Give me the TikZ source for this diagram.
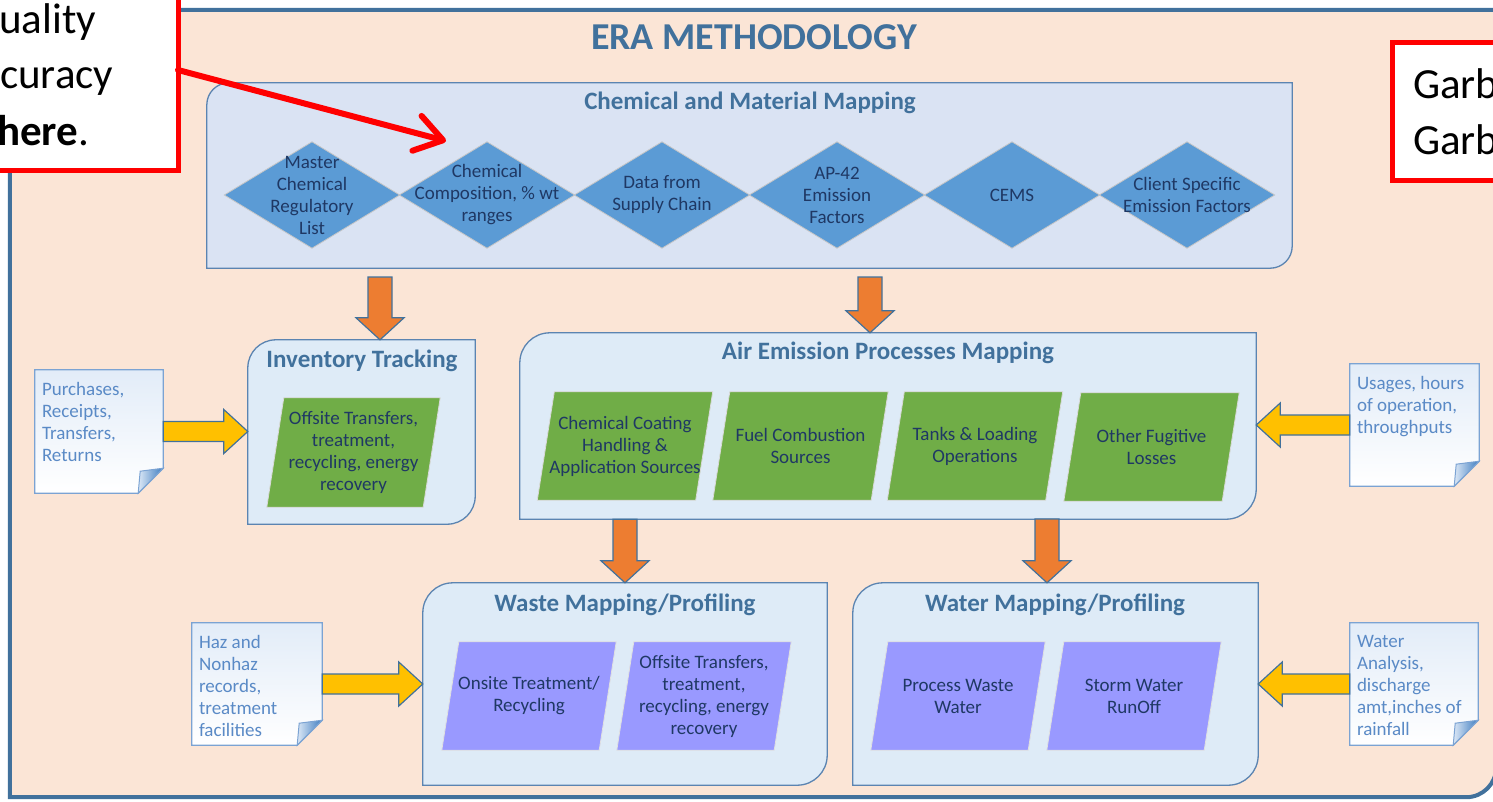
\documentclass[tikz,border=0pt]{standalone}
\usepackage{fontspec}
\setmainfont{Carlito}
\usetikzlibrary{calc,arrows.meta}

\definecolor{frameFill}{HTML}{FBE5D6}
\definecolor{frameLine}{HTML}{41719C}
\definecolor{chemFill}{HTML}{DAE3F3}
\definecolor{boxFill}{HTML}{DEEBF7}
\definecolor{boxLine}{HTML}{5B84B1}
\definecolor{titleBlue}{HTML}{41719C}
\definecolor{diaFill}{HTML}{5B9BD5}
\definecolor{bodyText}{HTML}{1F3864}
\definecolor{greenFill}{HTML}{70AD47}
\definecolor{purpleFill}{HTML}{9999FF}
\definecolor{orangeFill}{HTML}{ED7D31}
\definecolor{yellowFill}{HTML}{FFC000}
\definecolor{noteTextCol}{HTML}{5A8AC6}
\definecolor{noteLine}{HTML}{7BA3D3}
\definecolor{noteTop}{HTML}{E2ECF8}
\definecolor{foldA}{HTML}{DCE8F6}
\definecolor{foldB}{HTML}{3D7CC0}
\definecolor{calloutRed}{HTML}{FF0000}

% box with rounded top-left (#2) and bottom-right (#3) corners
\newcommand\ERArbox[4]{%
 \draw[#4] (#1.south west) -- ([yshift=-#2pt]#1.north west)
 .. controls ([yshift=-0.448*#2pt]#1.north west) and ([xshift=0.448*#2pt]#1.north west) .. ([xshift=#2pt]#1.north west)
 -- (#1.north east) -- ([yshift=#3pt]#1.south east)
 .. controls ([yshift=0.448*#3pt]#1.south east) and ([xshift=-0.448*#3pt]#1.south east) .. ([xshift=-#3pt]#1.south east)
 -- cycle;}
\newcommand\ERAdiamond[2]{\draw[#2] (#1.west) -- (#1.north) -- (#1.east) -- (#1.south) -- cycle;}
\newcommand\ERApgram[2]{\draw[#2] ([xshift=17pt]#1.north west) -- (#1.north east) -- ([xshift=-17pt]#1.south east) -- (#1.south west) -- cycle;}
\newcommand\ERAnote[1]{%
 \draw[noteSt] (#1.north west) -- (#1.north east) -- ([yshift=25pt]#1.south east) -- ([xshift=-25pt]#1.south east) -- (#1.south west) -- cycle;
 \draw[foldSt] ([yshift=25pt]#1.south east) -- ([xshift=-23pt,yshift=22pt]#1.south east) -- ([xshift=-25pt]#1.south east) -- cycle;}
\newcommand\ERAvblock[3]{%
 \draw[#3] let \p1=(#1), \p2=(#2), \n1={ifthenelse(\y2>\y1,1,-1)} in
 ({\x1-12pt},\y1) -- ({\x1-12pt},{\y2-(\n1)*22pt}) -- ({\x1-24pt},{\y2-(\n1)*22pt}) -- (\x1,\y2)
 -- ({\x1+24pt},{\y2-(\n1)*22pt}) -- ({\x1+12pt},{\y2-(\n1)*22pt}) -- ({\x1+12pt},\y1) -- cycle;}
\newcommand\ERAhblock[3]{%
 \draw[#3] let \p1=(#1), \p2=(#2), \n1={ifthenelse(\x2>\x1,1,-1)} in
 (\x1,{\y1+10pt}) -- ({\x2-(\n1)*24pt},{\y1+10pt}) -- ({\x2-(\n1)*24pt},{\y1+22pt}) -- (\x2,\y1)
 -- ({\x2-(\n1)*24pt},{\y1-22pt}) -- ({\x2-(\n1)*24pt},{\y1-10pt}) -- (\x1,{\y1-10pt}) -- cycle;}

\tikzset{
 anchorbox/.style={draw=none, inner sep=0pt, rectangle},
 frameSt/.style={fill=frameFill, draw=frameLine, line width=4pt},
 chemSt/.style={fill=chemFill, draw=boxLine, line width=1.3pt},
 boxSt/.style={fill=boxFill, draw=boxLine, line width=1.3pt},
 titleSt/.style={font=\fontsize{25}{30}\selectfont\bfseries, text=titleBlue, inner sep=0pt},
 eraSt/.style={font=\fontsize{38}{44}\selectfont\bfseries, text=titleBlue, inner sep=0pt},
 diaBox/.style={anchorbox, minimum width=175pt, minimum height=106pt},
 pgBox/.style={anchorbox, minimum width=175pt, minimum height=108pt},
 diaSt/.style={fill=diaFill, draw=black!22, line width=0.8pt},
 greenSt/.style={fill=greenFill, draw=black!15, line width=0.8pt},
 purpleSt/.style={fill=purpleFill, draw=black!12, line width=0.8pt},
 bodySt/.style={font=\fontsize{19}{22}\selectfont, text=bodyText, align=center, inner sep=0pt},
 noteSt/.style={top color=noteTop, bottom color=white, draw=noteLine, line width=1.2pt},
 foldSt/.style={left color=foldA, right color=foldB, draw=noteLine, line width=1pt},
 noteTxtSt/.style={font=\fontsize{19}{22}\selectfont, text=noteTextCol, align=left, inner sep=0pt, anchor=north west},
 orangeSt/.style={fill=orangeFill, draw=frameLine, line width=1.2pt, line join=miter},
 yellowSt/.style={fill=yellowFill, draw=frameLine, line width=1.2pt, line join=miter},
 calloutSt/.style={draw=calloutRed, fill=white, line width=5pt, inner sep=0pt},
 calloutTxt/.style={font=\fontsize{43}{56}\selectfont, text=black, inner sep=0pt, anchor=base west},
 redArrowSt/.style={draw=calloutRed, line width=6pt, line cap=round,
   -{Straight Barb[length=27pt, width=36pt, round]}}
}

\begin{document}
\begin{tikzpicture}[x=1pt,y=-1pt]
\useasboundingbox (0,0) rectangle (1493,801);
\clip (0,0) rectangle (1493,801);
\fill[white] (0,0) rectangle (1493,801);

% outer frame
\node[anchorbox, minimum width=1486pt, minimum height=787pt] (frame) at (753,403.5) {};
\ERArbox{frame}{0}{30}{frameSt}
\node[eraSt] (era) at (754,37) {ERA METHODOLOGY};

% chemical and material mapping
\node[anchorbox, minimum width=1085pt, minimum height=185pt] (chem) at (749.5,175.5) {};
\ERArbox{chem}{22}{22}{chemSt}
\node[titleSt] (chemT) at (750,103) {Chemical and Material Mapping};

\foreach \i/\xx in {1/312,2/487,3/662,4/837,5/1012,6/1187}{
  \node[diaBox] (d\i) at (\xx,195) {};
  \ERAdiamond{d\i}{diaSt}
}
\node[bodySt] (d1t) at (d1) {Master\\Chemical\\Regulatory\\List};
\node[bodySt] (d2t) at (d2) {Chemical\\Composition, \% wt\\ranges};
\node[bodySt] (d3t) at (d3) {Data from\\Supply Chain};
\node[bodySt] (d4t) at (d4) {AP-42\\Emission\\Factors};
\node[bodySt] (d5t) at (d5) {CEMS};
\node[bodySt] (d6t) at (d6) {Client Specific\\Emission Factors};

% inventory tracking
\node[anchorbox, minimum width=227pt, minimum height=184pt] (inv) at (361.5,432) {};
\ERArbox{inv}{28}{28}{boxSt}
\node[titleSt] (invT) at (362,361) {Inventory Tracking};
\node[pgBox, minimum width=173pt, minimum height=109pt] (g0) at (353.5,452.5) {};
\ERApgram{g0}{greenSt}
\node[bodySt] (g0t) at (g0) {Offsite Transfers,\\treatment,\\recycling, energy\\recovery};

% air emission
\node[anchorbox, minimum width=736pt, minimum height=186pt] (air) at (888,426) {};
\ERArbox{air}{30}{30}{boxSt}
\node[titleSt] (airT) at (888,353) {Air Emission Processes Mapping};
\node[pgBox] (g1) at (625,446) {};
\node[pgBox] (g2) at (800.5,446) {};
\node[pgBox] (g3) at (975,446) {};
\node[pgBox] (g4) at (1151.5,447) {};
\foreach \g in {g1,g2,g3,g4}{\ERApgram{\g}{greenSt}}
\node[bodySt] (g1t) at (g1) {Chemical Coating\\Handling \&\\Application Sources};
\node[bodySt] (g2t) at (g2) {Fuel Combustion\\Sources};
\node[bodySt] (g3t) at (g3) {Tanks \& Loading\\Operations};
\node[bodySt] (g4t) at (g4) {Other Fugitive\\Losses};

% waste mapping
\node[anchorbox, minimum width=404pt, minimum height=202pt] (waste) at (625,684) {};
\ERArbox{waste}{30}{30}{boxSt}
\node[titleSt] (wasteT) at (625,605) {Waste Mapping/Profiling};
\node[pgBox, minimum width=174pt] (p1) at (529,696) {};
\node[pgBox, minimum width=174pt] (p2) at (704,696) {};
% water mapping
\node[anchorbox, minimum width=405pt, minimum height=202pt] (water) at (1055.5,684) {};
\ERArbox{water}{30}{30}{boxSt}
\node[titleSt] (waterT) at (1055,605) {Water Mapping/Profiling};
\node[pgBox, minimum width=174pt] (p3) at (958,696) {};
\node[pgBox, minimum width=174pt] (p4) at (1134,696) {};
\foreach \p in {p1,p2,p3,p4}{\ERApgram{\p}{purpleSt}}
\node[bodySt] (p1t) at (p1) {Onsite Treatment/\\Recycling};
\node[bodySt] (p2t) at (p2) {Offsite Transfers,\\treatment,\\recycling, energy\\recovery};
\node[bodySt] (p3t) at (p3) {Process Waste\\Water};
\node[bodySt] (p4t) at (p4) {Storm Water\\RunOff};

% notes
\node[anchorbox, minimum width=128pt, minimum height=123pt] (n1) at (99,431.5) {};
\node[anchorbox, minimum width=129pt, minimum height=122pt] (n2) at (1414.5,425) {};
\node[anchorbox, minimum width=130pt, minimum height=122pt] (n3) at (257,684) {};
\node[anchorbox, minimum width=128pt, minimum height=122pt] (n4) at (1414,684) {};
\foreach \n in {n1,n2,n3,n4}{\ERAnote{\n}}
\node[noteTxtSt] (n1t) at ([xshift=7pt,yshift=-12pt]n1.north west) {Purchases,\\Receipts,\\Transfers,\\Returns};
\node[noteTxtSt] (n2t) at ([xshift=7pt,yshift=-12pt]n2.north west) {Usages, hours\\of operation,\\throughputs};
\node[noteTxtSt] (n3t) at ([xshift=7pt,yshift=-12pt]n3.north west) {Haz and\\Nonhaz\\records,\\treatment\\facilities};
\node[noteTxtSt] (n4t) at ([xshift=7pt,yshift=-12pt]n4.north west) {Water\\Analysis,\\discharge\\amt,inches of\\rainfall};

% yellow input arrows
\ERAhblock{n1.east}{inv.west}{yellowSt}
\ERAhblock{n2.west}{air.east}{yellowSt}
\ERAhblock{n3.east}{waste.west}{yellowSt}
\ERAhblock{n4.west}{water.east}{yellowSt}

% orange flow arrows
\coordinate (o1s) at (380,277);
\coordinate (o2s) at (870,277);
\coordinate (o4s) at (1047,519);
\ERAvblock{o1s}{o1s |- inv.north}{orangeSt}
\ERAvblock{o2s}{o2s |- air.north}{orangeSt}
\ERAvblock{waste.north |- air.south}{waste.north}{orangeSt}
\ERAvblock{o4s}{o4s |- water.north}{orangeSt}

% callouts
\node[calloutSt, minimum width=188pt, minimum height=180pt] (cl) at (84,80) {};
\node[calloutTxt] (cl1) at (-1,33) {uality};
\node[calloutTxt] (cl2) at (0,88) {curacy};
\node[calloutTxt] (cl3) at (-3,145) {\textbf{here}.};
\node[calloutSt, minimum width=118pt, minimum height=138pt] (cr) at (1451,111) {};
\node[calloutTxt] (cr1) at (1413,98) {Garb};
\node[calloutTxt] (cr2) at (1413,154) {Garb};

\coordinate (rs) at (178,70);
\coordinate (rt) at (446,141);
\draw[redArrowSt] (rs) -- (rt);
\end{tikzpicture}
\end{document}
